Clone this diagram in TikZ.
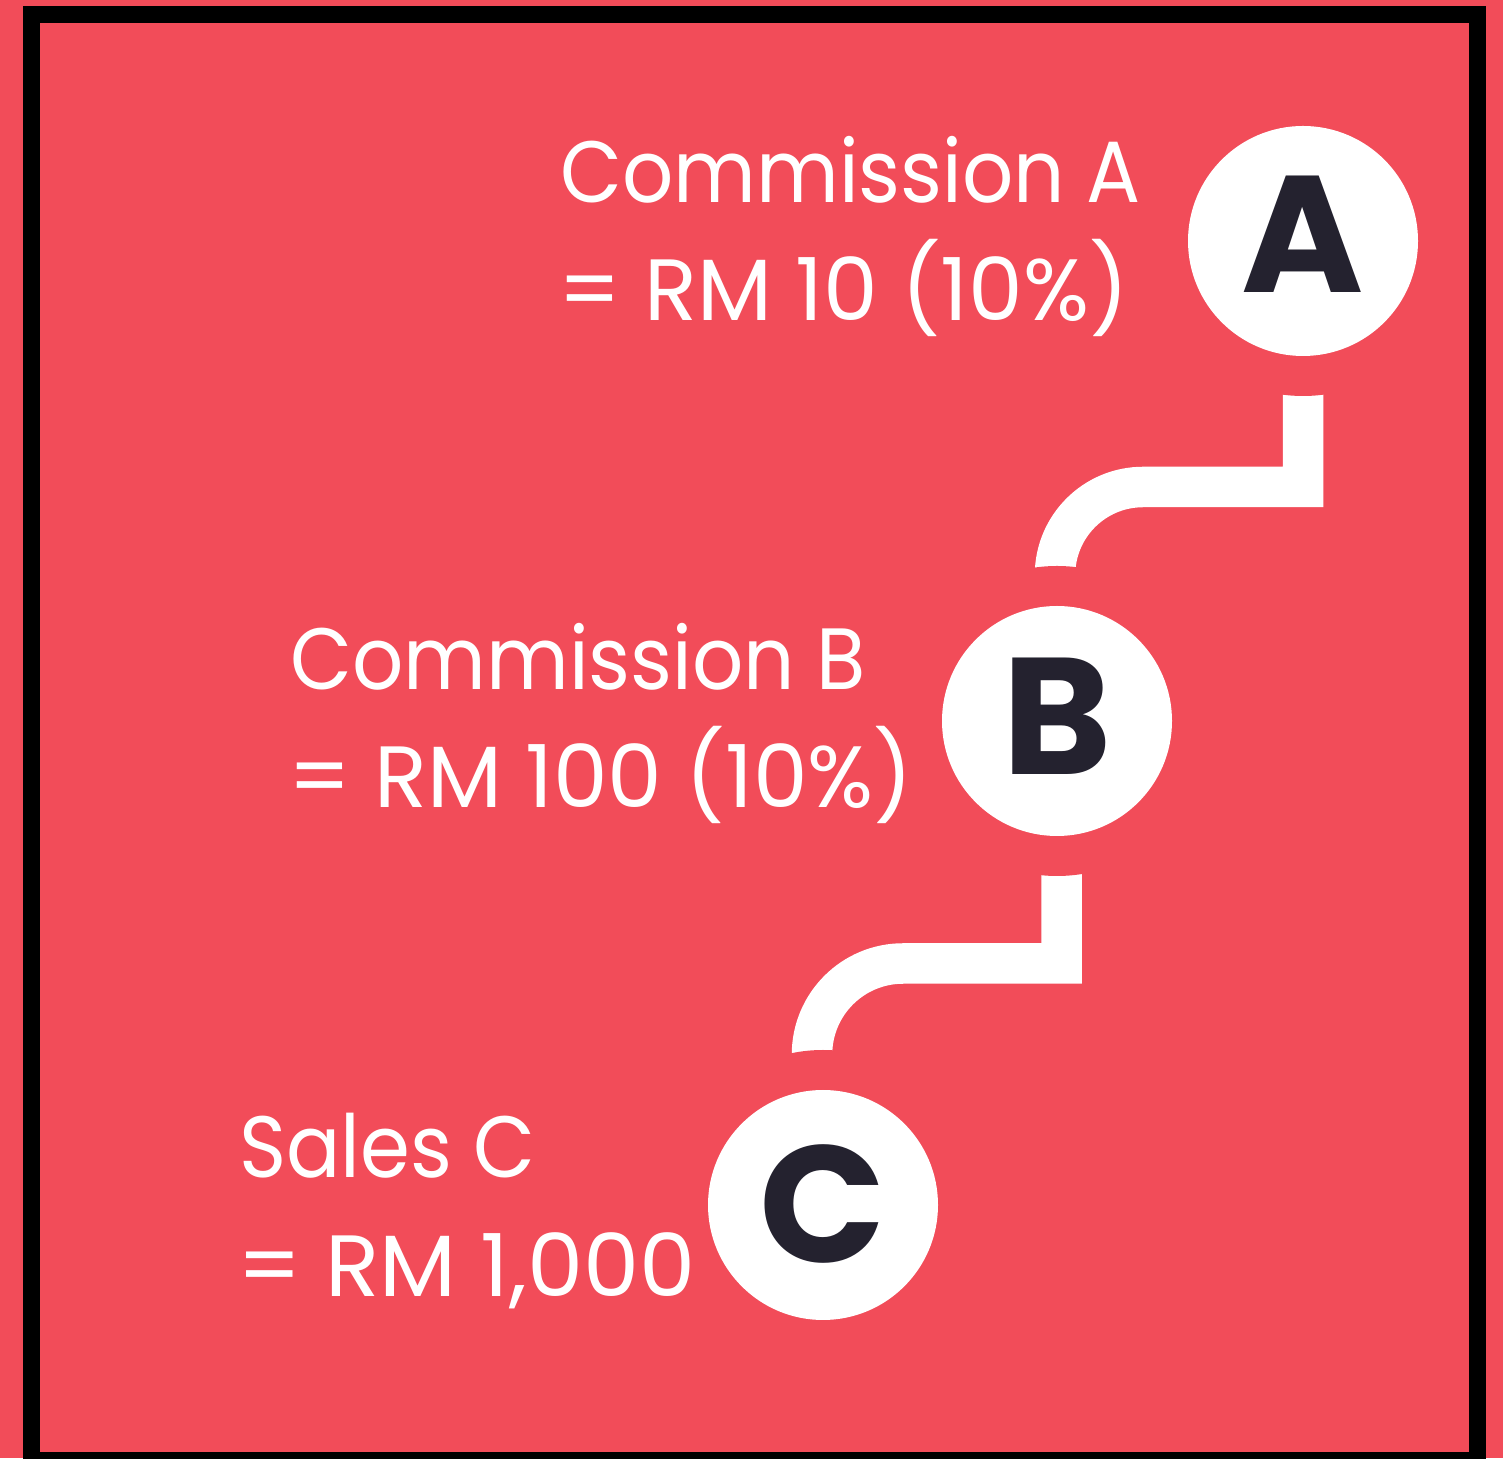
\documentclass[tikz,border=0pt]{standalone}
\usepackage{fontspec}
\setmainfont{Poppins}
\usetikzlibrary{backgrounds}
\definecolor{bgred}{HTML}{F24C59}
\definecolor{ink}{HTML}{24222F}
\tikzset{
  badge/.style={circle, fill=white, minimum size=230pt, inner sep=0pt, text=ink,
    font=\fontsize{166}{166}\selectfont\bfseries},
  conn/.style={draw=white, line width=40.5pt, line join=miter},
  halo/.style={fill=bgred},
  lbl/.style={text=white, inner sep=0pt, anchor=base west,
    font=\fontsize{87}{87}\selectfont}
}
\newcommand{\narrow}[1]{\scalebox{0.923}[1]{#1}}
\begin{document}
\begin{tikzpicture}[x=1pt,y=1pt]
\useasboundingbox (0,0) rectangle (1503,1458);
% circles
\node[badge] (A) at (1303,1217) {\raisebox{14pt}{A}};
\node[badge] (B) at (1057,737) {\raisebox{10pt}{B}};
\node[badge] (C) at (823,253) {\raisebox{3pt}{C}};
% labels
\node[lbl] (A1) at (560,1255) {\narrow{Commission A}};
\node[lbl] (A2) at (558,1137) {= RM 10 (10\%)};
\node[lbl] (B1) at (290,768) {\narrow{Commission B}};
\node[lbl] (B2) at (288,650) {= RM 100 (10\%)};
\node[lbl] (C1) at (239,280) {\narrow{Sales C}};
\node[lbl] (C2) at (237,161) {\scalebox{1.027}[1]{= RM 1,000}};
\begin{scope}[on background layer]
  \fill[bgred] (0,0) rectangle (1503,1458);
  \draw[line width=17pt] (31.5,-2.5) rectangle (1477,1443.5);
  \draw[conn] (A.center) -- (1303,971) -- (1143,971)
    arc[start angle=90, end angle=180, radius=88] -- (B.center);
  \draw[conn] (B.center) -- (1061.5,737) -- (1061.5,494.5) -- (903,494.5)
    arc[start angle=90, end angle=180, radius=91] -- (C.center);
  \fill[halo] (A.center) circle[radius=155];
  \fill[halo] (B.center) circle[radius=155];
  \fill[halo] (C.center) circle[radius=155];
\end{scope}
\end{tikzpicture}
\end{document}
